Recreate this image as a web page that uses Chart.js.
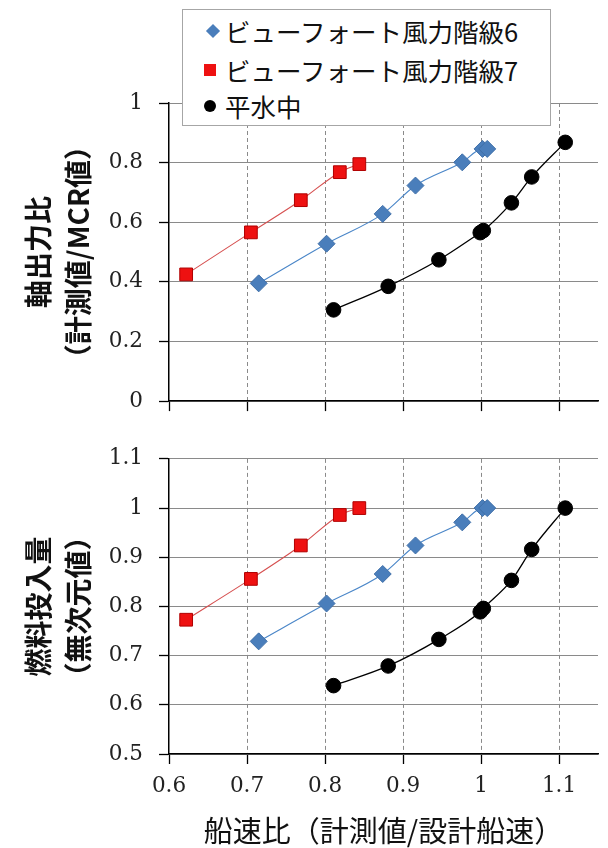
<!DOCTYPE html>
<html><head><meta charset="utf-8">
<script src="https://cdn.jsdelivr.net/npm/chart.js@4/dist/chart.umd.min.js"></script>
<style>
html,body{margin:0;padding:0;background:#fff;}
#wrap{position:relative;width:608px;height:848px;overflow:hidden;}
#c1{position:absolute;left:0;top:0;}
#c2{position:absolute;left:0;top:430px;}
#legend{position:absolute;left:182px;top:9px;width:367px;height:115px;border:1px solid #a6a6a6;background:#fff;
 font-family:"Noto Sans CJK JP","Noto Sans",sans-serif;font-size:25.5px;color:#111;}
.row{position:absolute;left:0;height:30px;line-height:30px;white-space:nowrap;}
.mk{position:absolute;}
.tx{position:absolute;left:42px;top:0;}
</style></head>
<body><div id="wrap">
<canvas id="c1" width="608" height="430"></canvas>
<canvas id="c2" width="608" height="418"></canvas>
<div id="legend"></div>
</div>
<script>
// ---- data ----
const seriesNames = ["ビューフォート風力階級6", "ビューフォート風力階級7", "平水中"];
const xTicks = [0.6, 0.7, 0.8, 0.9, 1.0, 1.1];
const yTicksPower = [0, 0.2, 0.4, 0.6, 0.8, 1];
const yTicksFuel = [0.5, 0.6, 0.7, 0.8, 0.9, 1.0, 1.1];

const speedBF6 = [0.715, 0.802, 0.874, 0.916, 0.976, 1.002, 1.008];
const powerBF6 = [0.395, 0.528, 0.628, 0.723, 0.801, 0.846, 0.846];
const fuelBF6  = [0.729, 0.806, 0.866, 0.924, 0.971, 1.000, 1.000];

const speedBF7 = [0.622, 0.705, 0.769, 0.819, 0.844];
const powerBF7 = [0.425, 0.566, 0.674, 0.768, 0.795];
const fuelBF7  = [0.773, 0.856, 0.924, 0.986, 1.000];

const speedCalm = [0.811, 0.881, 0.946, 0.999, 1.003, 1.039, 1.065, 1.108];
const powerCalm = [0.306, 0.385, 0.474, 0.565, 0.572, 0.665, 0.752, 0.868];
const fuelCalm  = [0.639, 0.679, 0.733, 0.789, 0.796, 0.853, 0.916, 1.000];

const yTitlePower = ["軸出力比", "（計測値/MCR値）"];
const yTitleFuel = ["燃料投入量", "（無次元値）"];
const xTitle = "船速比（計測値/設計船速）";

// ---- styles ----
const styles = [
  {pointStyle:'rectRot', radius:8.5, fill:'#4a7ebb', border:'#3f6fa8', line:'#4a86c8'},
  {pointStyle:'rect', radius:9, fill:'#ee1111', border:'#b00000', line:'#d65050'},
  {pointStyle:'circle', radius:7.3, fill:'#000000', border:'#000000', line:'#000000'}
];

function pts(xs, ys){ return xs.map((x,i)=>({x:x, y:ys[i]})); }

function makeDatasets(yBF6, yBF7, yCalm){
  const sets = [pts(speedBF6,yBF6), pts(speedBF7,yBF7), pts(speedCalm,yCalm)];
  return sets.map((d,i)=>({
    label: seriesNames[i], data: d, showLine: true,
    borderColor: styles[i].line, borderWidth: i===2?1.3:1.1,
    pointStyle: styles[i].pointStyle, pointRadius: styles[i].radius,
    pointBackgroundColor: styles[i].fill, pointBorderColor: styles[i].border, pointBorderWidth: 1,
    cubicInterpolationMode: 'monotone', clip: false
  }));
}

const tickFont = {family:'"DejaVu Serif", "Liberation Serif", serif', size:21.5};
const titleFontY = {family:'"Noto Sans CJK JP", sans-serif', size:28, weight:'bold', lineHeight:'40px'};

function fmt(v){ return String(Math.round(v*10)/10); }

function makeOptions(yTicks, yTitle, showXLabels, pad){
  return {
    responsive:false, animation:false, events:[],
    layout:{padding:pad},
    plugins:{legend:{display:false}, tooltip:{enabled:false}},
    scales:{
      x:{
        type:'linear', min:0.6, max:1.15,
        afterBuildTicks:(s)=>{ s.ticks = xTicks.map(v=>({value:v})); },
        afterFit:(s)=>{ s.height = showXLabels ? 94 : 10; },
        ticks:{display:showXLabels, font:tickFont, color:'#222', padding:10, maxRotation:0, callback:(v)=>fmt(v)},
        grid:{color:(c)=> (c.tick && Math.abs(c.tick.value-0.6)<1e-6) ? 'rgba(0,0,0,0)' : '#8a8a8a',
              lineWidth:1, tickLength:10, tickColor:'#000', tickWidth:1.3, tickBorderDash:[]},
        border:{color:'#000', width:1.5, dash:[4,3]},
        title: showXLabels ? {display:true, text:xTitle, color:'#111',
          font:{family:'"Noto Sans CJK JP", sans-serif', size:29}, padding:{top:0,bottom:0}} : {display:false}
      },
      y:{
        type:'linear', min:yTicks[0], max:yTicks[yTicks.length-1],
        afterBuildTicks:(s)=>{ s.ticks = yTicks.map(v=>({value:v})); },
        afterFit:(s)=>{ s.width = 169; },
        ticks:{font:tickFont, color:'#222', padding:16, callback:(v)=>fmt(v)},
        grid:{color:'#8a8a8a', lineWidth:1, tickLength:10, tickColor:'#000', tickWidth:1.3},
        border:{color:'#000', width:1.5, z:1},
        title:{display:true, text:yTitle, color:'#111', font:titleFontY, padding:{top:18,bottom:0}}
      }
    }
  };
}

new Chart(document.getElementById('c1'), {
  type:'scatter',
  data:{datasets:makeDatasets(powerBF6, powerBF7, powerCalm)},
  options:makeOptions(yTicksPower, yTitlePower, false, {top:103, bottom:8, left:0, right:2})
});
new Chart(document.getElementById('c2'), {
  type:'scatter',
  data:{datasets:makeDatasets(fuelBF6, fuelBF7, fuelCalm)},
  options:makeOptions(yTicksFuel, yTitleFuel, true, {top:15, bottom:0, left:0, right:2})
});

// ---- legend (HTML overlay) ----
const legend = document.getElementById('legend');
const rowTops = [6, 45, 81];
seriesNames.forEach((name,i)=>{
  const row = document.createElement('div');
  row.className='row'; row.style.top = rowTops[i]+'px'; row.style.width='360px';
  const mk = document.createElement('div'); mk.className='mk';
  if(i===0){ Object.assign(mk.style,{left:'25px',top:'10px',width:'10px',height:'10px',background:styles[0].fill,transform:'rotate(45deg)'}); }
  else if(i===1){ Object.assign(mk.style,{left:'21px',top:'9px',width:'12px',height:'12px',background:styles[1].fill}); }
  else { Object.assign(mk.style,{left:'21px',top:'9px',width:'12px',height:'12px',background:'#000',borderRadius:'50%'}); }
  const tx = document.createElement('div'); tx.className='tx'; tx.textContent=name;
  row.appendChild(mk); row.appendChild(tx); legend.appendChild(row);
});
</script>
</body></html>
